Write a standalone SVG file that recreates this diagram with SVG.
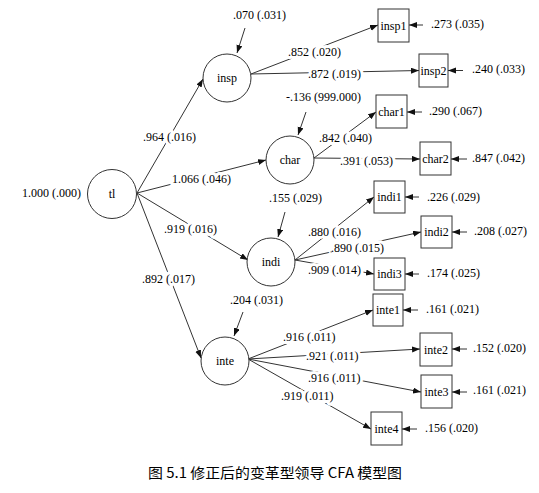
<svg xmlns="http://www.w3.org/2000/svg" width="539" height="493" viewBox="0 0 539 493">
<defs>
<marker id="ah" markerUnits="userSpaceOnUse" markerWidth="9" markerHeight="7" refX="8" refY="3" orient="auto"><path d="M0,0 L8,3 L0,6 z" fill="#111"/></marker>
<style>
.c{fill:#fff;stroke:#333;stroke-width:1}
.b{fill:#fff;stroke:#333;stroke-width:1}
.e{stroke:#333;stroke-width:1;fill:none;marker-end:url(#ah)}
.l{paint-order:stroke;stroke:#fff;stroke-width:6px;stroke-linejoin:round}
</style>
</defs>
<rect width="539" height="493" fill="#fff"/>
<g id="connectors">
<line class="e" x1="137" y1="193" x2="203" y2="79"/>
<line class="e" x1="137" y1="193" x2="266" y2="160"/>
<line class="e" x1="137" y1="193" x2="248" y2="260"/>
<line class="e" x1="137" y1="193" x2="201" y2="358"/>
<line class="e" x1="251" y1="74" x2="378" y2="25"/>
<line class="e" x1="251" y1="74" x2="419" y2="70.5"/>
<line class="e" x1="314" y1="158" x2="376" y2="112"/>
<line class="e" x1="314" y1="158" x2="420" y2="159"/>
<line class="e" x1="295" y1="260" x2="374" y2="197"/>
<line class="e" x1="295" y1="260" x2="421" y2="232"/>
<line class="e" x1="295" y1="260" x2="374" y2="274"/>
<line class="e" x1="248" y1="359" x2="373" y2="310"/>
<line class="e" x1="248" y1="359" x2="420" y2="349"/>
<line class="e" x1="248" y1="359" x2="421" y2="392"/>
<line class="e" x1="248" y1="359" x2="371" y2="429"/>
<line class="e" x1="245" y1="28" x2="237" y2="53"/>
<line class="e" x1="306" y1="112" x2="298" y2="135"/>
<line class="e" x1="285" y1="212" x2="278" y2="237"/>
<line class="e" x1="243" y1="312" x2="234" y2="336"/>
<line class="e" x1="423" y1="25" x2="409" y2="25"/>
<line class="e" x1="463" y1="70.5" x2="448" y2="70.5"/>
<line class="e" x1="422" y1="112" x2="407" y2="112"/>
<line class="e" x1="467" y1="159" x2="451" y2="159"/>
<line class="e" x1="419" y1="197" x2="405" y2="197"/>
<line class="e" x1="467" y1="232" x2="452" y2="232"/>
<line class="e" x1="419" y1="274" x2="405" y2="274"/>
<line class="e" x1="418" y1="310" x2="403" y2="310"/>
<line class="e" x1="467" y1="349" x2="452" y2="349"/>
<line class="e" x1="467" y1="392" x2="452" y2="392"/>
<line class="e" x1="417" y1="429" x2="402" y2="429"/>
<g class="l" font-family="Liberation Serif, Times New Roman, serif" font-size="12" fill="#000">
<text x="22" y="197">1.000 (.000)</text>
<text x="233" y="19">.070 (.031)</text>
<text x="288" y="56">.852 (.020)</text>
<text x="308" y="78">.872 (.019)</text>
<text x="286" y="101">-.136 (999.000)</text>
<text x="319" y="142">.842 (.040)</text>
<text x="340" y="165">.391 (.053)</text>
<text x="429" y="115">.290 (.067)</text>
<text x="472" y="162">.847 (.042)</text>
<text x="431" y="28">.273 (.035)</text>
<text x="472" y="73">.240 (.033)</text>
<text x="269" y="202">.155 (.029)</text>
<text x="308" y="236">.880 (.016)</text>
<text x="331" y="252">.890 (.015)</text>
<text x="308" y="274">.909 (.014)</text>
<text x="427" y="201">.226 (.029)</text>
<text x="474" y="235">.208 (.027)</text>
<text x="427" y="277">.174 (.025)</text>
<text x="230" y="304">.204 (.031)</text>
<text x="283" y="341">.916 (.011)</text>
<text x="306" y="360">.921 (.011)</text>
<text x="308" y="382">.916 (.011)</text>
<text x="281" y="400">.919 (.011)</text>
<text x="426" y="313">.161 (.021)</text>
<text x="473" y="352">.152 (.020)</text>
<text x="473" y="394">.161 (.021)</text>
<text x="425" y="432">.156 (.020)</text>
<text x="143" y="141">.964 (.016)</text>
<text x="172" y="183">1.066 (.046)</text>
<text x="164" y="233">.919 (.016)</text>
<text x="142" y="283">.892 (.017)</text>
</g>
</g>
<g font-family="Liberation Serif, Times New Roman, serif" font-size="12" fill="#000" text-anchor="middle">
<g id="tl"><circle class="c" cx="112" cy="194" r="24.5"/><text x="112" y="198">tl</text></g>
<g id="insp"><circle class="c" cx="227" cy="78" r="24"/><text x="227" y="82">insp</text></g>
<g id="char"><circle class="c" cx="290" cy="160" r="24"/><text x="290" y="164">char</text></g>
<g id="indi"><circle class="c" cx="271" cy="262" r="24"/><text x="271" y="266">indi</text></g>
<g id="inte"><circle class="c" cx="225" cy="361" r="24"/><text x="225" y="365">inte</text></g>
<g id="insp1"><rect class="b" x="378" y="9" width="31" height="33"/><text x="393.5" y="29.5">insp1</text></g>
<g id="insp2"><rect class="b" x="419" y="54" width="29" height="33"/><text x="433.5" y="74.5">insp2</text></g>
<g id="char1"><rect class="b" x="376" y="95" width="31" height="33"/><text x="391.5" y="115.5">char1</text></g>
<g id="char2"><rect class="b" x="420" y="142" width="31" height="33"/><text x="435.5" y="162.5">char2</text></g>
<g id="indi1"><rect class="b" x="374" y="181" width="31" height="32"/><text x="389.5" y="201">indi1</text></g>
<g id="indi2"><rect class="b" x="421" y="216" width="31" height="32"/><text x="436.5" y="236">indi2</text></g>
<g id="indi3"><rect class="b" x="374" y="258" width="31" height="32"/><text x="389.5" y="278">indi3</text></g>
<g id="inte1"><rect class="b" x="373" y="294" width="30" height="32"/><text x="388" y="314">inte1</text></g>
<g id="inte2"><rect class="b" x="420" y="333" width="32" height="33"/><text x="436" y="353.5">inte2</text></g>
<g id="inte3"><rect class="b" x="421" y="375" width="31" height="33"/><text x="436.5" y="395.5">inte3</text></g>
<g id="inte4"><rect class="b" x="371" y="412" width="31" height="33"/><text x="386.5" y="432.5">inte4</text></g>
</g>
<text x="275" y="478" font-family="Noto Sans CJK SC, monospace" font-size="14" fill="#000" text-anchor="middle" textLength="254" lengthAdjust="spacingAndGlyphs">图 5.1 修正后的变革型领导 CFA 模型图</text>
</svg>
